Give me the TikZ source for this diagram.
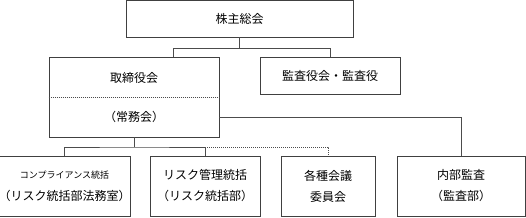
\documentclass[tikz,border=0pt]{standalone}
\usepackage{fontspec}
\setmainfont{Noto Sans CJK JP}
\usetikzlibrary{positioning}

\begin{document}
\begin{tikzpicture}[x=1pt,y=1pt,yscale=-1,
    orgbox/.style={draw=black!75,line width=0.8pt,rectangle,inner sep=0pt,align=center,font=\fontsize{12}{14}\selectfont},
    orgline/.style={draw=black!70,line width=0.8pt},
    dotline/.style={draw=black!70,line width=0.8pt,dash pattern=on 1pt off 1pt}]
\useasboundingbox (0,0) rectangle (526,217);

%Shape: Rectangle [top]
\node[orgbox,minimum width=227,minimum height=37] (sokai) at (239.5,18.5) {株主総会};

%Shape: Rectangle [second row]
\node[orgbox,minimum width=170,minimum height=80] (torishimari) at (134,97) {};
\node[font=\fontsize{12}{14}\selectfont,inner sep=0pt] (board) at (134,78) {取締役会};
\node[font=\fontsize{12}{14}\selectfont,inner sep=0pt] (jomu) at (134,117) {（常務会）};
\draw[dotline] (torishimari.west) -- (torishimari.east);
\node[orgbox,minimum width=140,minimum height=37] (kansayaku) at (330,75.5) {監査役会・監査役};

%Shape: Rectangle [bottom row]
\node[orgbox,minimum width=125,minimum height=60] (comp) at (64.5,186) {{\fontsize{9}{11}\selectfont コンプライアンス統括}\\[8pt]（リスク統括部法務室）};
\node[orgbox,minimum width=110,minimum height=60] (risk) at (205,186) {リスク管理統括\\[7pt]（リスク統括部）};
\node[orgbox,minimum width=94,minimum height=60] (kaigi) at (328,186) {各種会議\\[7pt]委員会};
\node[orgbox,minimum width=128,minimum height=60] (naibu) at (461,186) {内部監査\\[7pt]（監査部）};

%Straight Lines
\coordinate (busL) at (173,48);
\coordinate (busB) at (134,147);
\draw[orgline] (sokai.south) -- (sokai.south |- busL);
\draw[orgline] (busL |- torishimari.north) -- (busL) -| (kansayaku.north);
\draw[orgline] (torishimari.south) -- (busB);
\draw[orgline] (comp.north) |- (busB) -| (risk.north);
\draw[dotline] (risk.north |- busB) -| (kaigi.north);
\draw[orgline] (jomu -| torishimari.east) -| (naibu.north);
\end{tikzpicture}
\end{document}
